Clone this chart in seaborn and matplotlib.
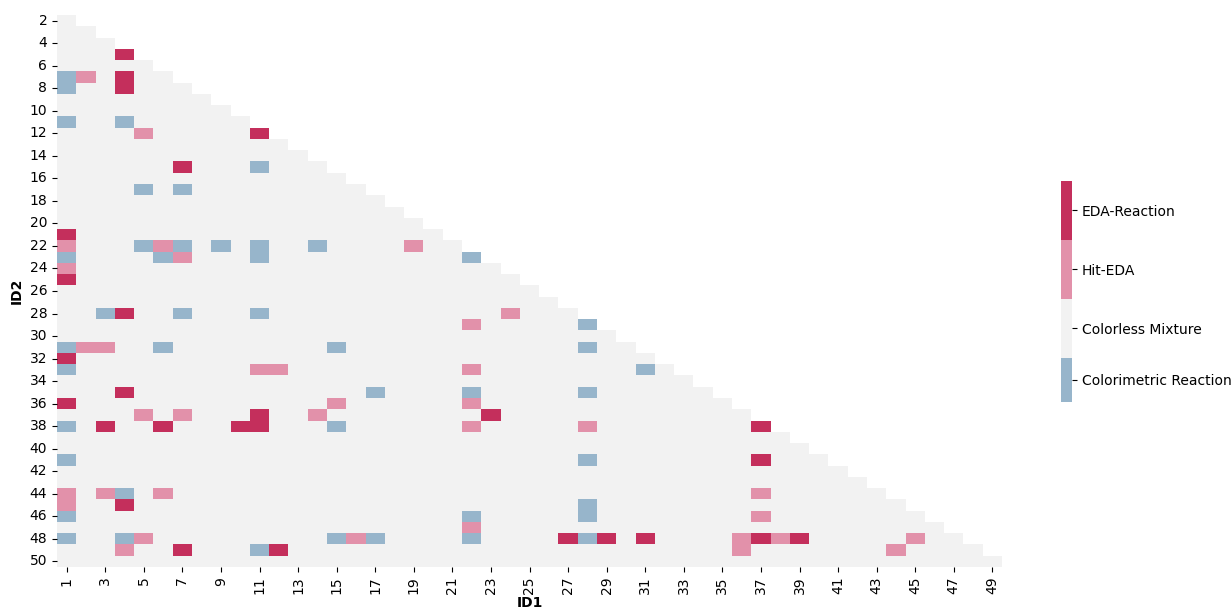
import numpy as np
import pandas as pd
import matplotlib
matplotlib.use("Agg")
import matplotlib.pyplot as plt
import seaborn as sns
from matplotlib.colors import ListedColormap, BoundaryNorm

# Axis identifiers
id1 = list(range(1, 50))
id2 = list(range(2, 51))

# Outcome categories (code 0..3) and their colours
categories = ["Colorimetric Reaction", "Colorless Mixture", "Hit-EDA", "EDA-Reaction"]
colors = ["#97b5cb", "#f2f2f2", "#e291aa", "#c42f5c"]

# (ID1, ID2) pairs per outcome; every other pair is a Colorless Mixture
colorimetric_pairs = [
    (1, 7), (1, 8), (1, 11), (4, 11), (11, 15), (5, 17), (7, 17),
    (5, 22), (7, 22), (9, 22), (11, 22), (14, 22), (1, 23), (6, 23),
    (11, 23), (22, 23), (3, 28), (7, 28), (11, 28), (28, 29), (1, 31),
    (6, 31), (15, 31), (28, 31), (1, 33), (31, 33), (17, 35), (22, 35),
    (28, 35), (1, 38), (15, 38), (1, 41), (28, 41), (4, 44), (28, 45),
    (1, 46), (22, 46), (28, 46), (1, 48), (4, 48), (15, 48), (17, 48),
    (22, 48), (28, 48), (11, 49),
]
hit_eda_pairs = [
    (2, 7), (5, 12), (1, 22), (6, 22), (19, 22), (7, 23), (1, 24),
    (24, 28), (22, 29), (2, 31), (3, 31), (11, 33), (12, 33), (22, 33),
    (15, 36), (22, 36), (5, 37), (7, 37), (14, 37), (22, 38), (28, 38),
    (1, 44), (3, 44), (6, 44), (37, 44), (1, 45), (37, 46), (22, 47),
    (5, 48), (16, 48), (36, 48), (38, 48), (45, 48), (4, 49), (36, 49),
    (44, 49),
]
eda_reaction_pairs = [
    (4, 5), (4, 7), (4, 8), (11, 12), (7, 15), (1, 21), (1, 25), (4, 28),
    (1, 32), (4, 35), (1, 36), (11, 37), (23, 37), (3, 38), (6, 38),
    (10, 38), (11, 38), (37, 38), (37, 41), (4, 45), (27, 48), (29, 48),
    (31, 48), (37, 48), (39, 48), (7, 49), (12, 49),
]

# Build the ID2 x ID1 matrix of outcome codes
matrix = pd.DataFrame(1, index=id2, columns=id1, dtype=float)
for code, pairs in ((0, colorimetric_pairs), (2, hit_eda_pairs), (3, eda_reaction_pairs)):
    for a, b in pairs:
        matrix.loc[b, a] = code

# Only pairs with ID1 < ID2 exist
mask = np.triu(np.ones(matrix.shape, dtype=bool), k=1)

cmap = ListedColormap(colors)
bounds = [-0.25, 0.5, 1.5, 2.5, 3.5]
norm = BoundaryNorm(bounds, cmap.N)
tick_pos = [(lo + hi) / 2 for lo, hi in zip(bounds[:-1], bounds[1:])]

fig = plt.figure(figsize=(12.31, 6.10), dpi=100)
ax = fig.add_axes([57 / 1231, 1 - 567 / 610, (1002 - 57) / 1231, (567 - 15) / 610])
cax = fig.add_axes([1061 / 1231, 1 - 402 / 610, 11 / 1231, (402 - 181) / 610])

sns.heatmap(
    matrix, mask=mask, cmap=cmap, norm=norm, ax=ax, cbar_ax=cax,
    xticklabels=2, yticklabels=2,
    cbar_kws={"spacing": "proportional", "ticks": tick_pos},
)

cax.minorticks_off()
cax.set_yticklabels(categories)
cax.tick_params(labelsize=10)

ax.set_xlabel("ID1", fontweight="bold", fontsize=10, labelpad=1)
ax.set_ylabel("ID2", fontweight="bold", fontsize=10)
ax.tick_params(axis="x", labelrotation=90, labelsize=10)
ax.tick_params(axis="y", labelrotation=0, labelsize=10)

fig.savefig("out.png", dpi=100)
